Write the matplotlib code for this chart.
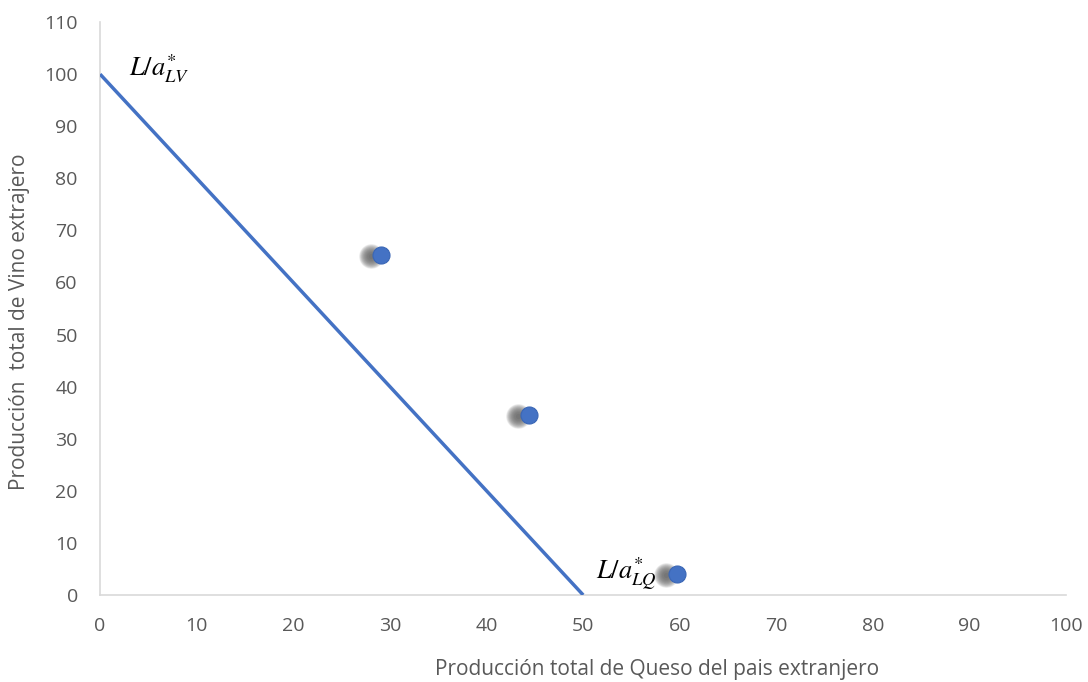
import numpy as np
import matplotlib.pyplot as plt

# Datos
linea_x = [0, 50]
linea_y = [100, 0]
puntos_x = [29.1, 44.4, 59.7]
puntos_y = [65.2, 34.5, 4.0]
xticks = list(range(0, 101, 10))
yticks = list(range(0, 111, 10))

azul = "#4472C4"
gris = "#595959"

plt.rcParams['font.family'] = ['Open Sans', 'DejaVu Sans']
plt.rcParams['mathtext.fontset'] = 'stix'

fig = plt.figure(figsize=(10.88, 6.82), dpi=100)
ax = fig.add_axes([0.092, 0.1276, 0.888, 0.84])

ax.plot(linea_x, linea_y, color=azul, lw=2.5, solid_capstyle='butt', zorder=3)

# sombra difusa a la izquierda de cada punto
px = np.array(puntos_x)
py = np.array(puntos_y)
for s in np.linspace(320, 15, 14):
    ax.scatter(px - 1.1, py - 0.2, s=s, color="black", alpha=0.05, lw=0, zorder=4)

ax.scatter(px, py, s=150, color=azul, edgecolor="#3A66B5", lw=0.8, zorder=5)

ax.text(3.0, 101, r"$L/a^{*}_{LV}$", fontsize=19, va='center', ha='left')
ax.text(51.3, 3.9, r"$L/a^{*}_{LQ}$", fontsize=19, va='center', ha='left', zorder=6)

ax.set_xlim(0, 100)
ax.set_ylim(0, 110)
ax.set_xticks(xticks)
ax.set_yticks(yticks)
ax.tick_params(length=0, labelsize=14, colors=gris)
ax.tick_params(axis='x', pad=16)
ax.tick_params(axis='y', pad=16)

for s in ['top', 'right']:
    ax.spines[s].set_visible(False)
for s in ['left', 'bottom']:
    ax.spines[s].set_color("#D9D9D9")
    ax.spines[s].set_linewidth(1.2)

fig.text(657 / 1088, 1 - 670 / 682, "Producción total de Queso del pais extranjero",
         fontsize=15, color=gris, ha='center', va='center')
fig.text(20 / 1088, 1 - 322 / 682, "Producción  total de Vino extrajero",
         fontsize=15, color=gris, ha='center', va='center', rotation=90)

fig.savefig("out.png", dpi=100)
